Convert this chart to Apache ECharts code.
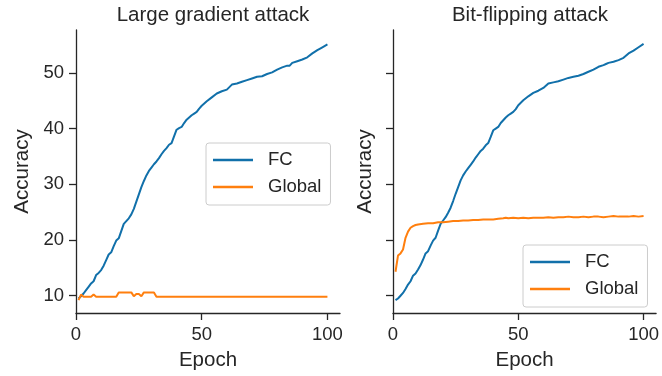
<!DOCTYPE html>
<html lang="en" style="height: 100%">
<head>
  <meta charset="utf-8">
</head>
<body style="height: 100%; margin: 0; background: #fff">
  <div id="container" style="width: 662px; height: 376px"></div>

  <script type="text/javascript" src="https://cdn.jsdelivr.net/npm/echarts@6.0.0/dist/echarts.min.js"></script>
  <script type="text/javascript">
// titles / legend names
var panelTitles = ['Large gradient attack', 'Bit-flipping attack'];
var seriesNames = ['FC', 'Global'];
var yTicks = [10, 20, 30, 40, 50];
var xTicks = [0, 50, 100];

// FC, large gradient attack
var fcLeftEpoch = [1,2,3,4,5,6,7,8,9,10,11,12,13,14,15,16,17,18,19,20,21,22,23,24,25,26,27,28,29,30,31,32,33,34,35,36,37,38,39,40,41,42,43,44,45,46,47,48,49,50,52,54,56,58,60,62,64,66,68,70,72,74,76,78,80,82,84,85,86,88,90,92,94,96,98,100];
var fcLeftAcc = [9.5,9.9,10.4,11.0,11.6,12.2,12.6,13.7,14.1,14.6,15.4,16.4,17.4,17.8,18.9,19.9,20.3,21.6,22.9,23.4,23.9,24.6,25.6,26.9,28.2,29.5,30.6,31.6,32.4,33.0,33.6,34.1,34.7,35.4,36.0,36.5,37.1,37.4,38.6,39.8,40.1,40.3,41.0,41.6,42.0,42.4,42.7,43.0,43.6,44.1,44.9,45.6,46.3,46.7,47.0,47.9,48.1,48.4,48.7,49.0,49.3,49.4,49.8,50.1,50.6,51.0,51.3,51.3,51.8,52.1,52.4,52.8,53.5,54.1,54.6,55.1];

// Global, large gradient attack
var glLeftEpoch = [1,2,3,6,7,8,16,17,22,23,24,25,26,27,31,32,100];
var glLeftAcc = [9.2,10.2,9.8,9.8,10.2,9.8,9.8,10.6,10.6,9.9,10.3,10.3,9.9,10.6,10.6,9.8,9.8];

// FC, bit-flipping attack
var fcRightEpoch = [1,2,3,4,5,6,7,8,9,10,11,12,13,14,15,16,17,18,19,20,21,22,23,24,25,26,27,28,29,30,31,32,33,34,35,36,37,38,39,40,41,42,43,44,45,46,47,48,49,50,52,54,56,58,60,62,64,66,68,70,72,74,76,78,80,82,84,85,86,88,90,92,94,96,98,100];
var fcRightAcc = [9.2,9.5,10.0,10.5,11.2,12.0,12.6,13.6,14.0,14.7,15.5,16.5,17.6,18.0,19.0,19.9,20.4,21.7,22.9,23.5,24.1,24.9,25.8,27.0,28.3,29.5,30.7,31.6,32.3,32.9,33.5,34.1,34.8,35.4,36.0,36.4,37.0,37.4,38.5,39.7,40.0,40.3,41.0,41.5,42.0,42.4,42.7,43.0,43.5,44.2,45.1,45.8,46.4,46.8,47.3,48.1,48.3,48.5,48.8,49.1,49.3,49.5,49.8,50.2,50.6,51.1,51.4,51.6,51.8,52.0,52.3,52.7,53.5,54.0,54.6,55.2];

// Global, bit-flipping attack
var glRightEpoch = [1,2,3,4,5,6,7,8,9,10,12,14,16,18,20,22,24,26,28,30,32,34,36,38,40,42,44,45,46,48,50,52,54,56,58,60,62,64,66,68,70,72,74,76,78,80,82,84,86,88,90,92,94,96,98,100];
var glRightAcc = [14.3,17.2,17.6,18.3,20.4,21.5,22.2,22.5,22.7,22.8,22.9,23.0,23.0,23.2,23.2,23.3,23.4,23.4,23.5,23.5,23.6,23.6,23.7,23.7,23.7,23.8,23.9,24.0,23.9,24.0,23.9,24.0,23.9,24.0,24.0,24.0,24.1,24.0,24.1,24.1,24.2,24.1,24.1,24.2,24.1,24.2,24.2,24.1,24.2,24.3,24.2,24.2,24.2,24.3,24.2,24.3];

function pairs(xs, ys) {
  var out = [];
  for (var i = 0; i < xs.length; i++) out.push([xs[i], ys[i]]);
  return out;
}

var dom = document.getElementById('container');
var myChart = echarts.init(dom, null, { renderer: 'canvas' });

var FONT = '"Liberation Sans", Arial, sans-serif';
var INK = '#262626';
var BLUE = '#1170aa';
var ORANGE = '#ff7f0e';

function xAxisOf(idx) {
  return {
    type: 'value', gridIndex: idx, min: 0, max: 105,
    name: 'Epoch', nameLocation: 'middle', nameGap: 37,
    nameTextStyle: { fontFamily: FONT, fontSize: 20.5, color: INK },
    axisLine: { lineStyle: { color: INK, width: 1.3 } },
    axisTick: { length: 7, lineStyle: { color: INK, width: 1.3 }, customValues: xTicks },
    axisLabel: { fontFamily: FONT, fontSize: 18.5, color: INK, margin: 12, customValues: xTicks },
    splitLine: { show: false }
  };
}

function yAxisOf(idx, showLabels) {
  return {
    type: 'value', gridIndex: idx, min: 6.9, max: 57.7,
    name: 'Accuracy', nameLocation: 'middle', nameGap: showLabels ? 43 : 17,
    nameTextStyle: { fontFamily: FONT, fontSize: 20.5, color: INK },
    axisLine: { show: true, lineStyle: { color: INK, width: 1.3 } },
    axisTick: { show: true, length: 7, lineStyle: { color: INK, width: 1.3 }, customValues: yTicks },
    axisLabel: { show: showLabels, fontFamily: FONT, fontSize: 18.5, color: INK, margin: 12, customValues: yTicks },
    splitLine: { show: false }
  };
}

function lineSeries(name, idx, data, color) {
  return {
    name: name, type: 'line', xAxisIndex: idx, yAxisIndex: idx,
    data: data, symbol: 'none', showSymbol: false, animation: false,
    lineStyle: { color: color, width: 2 }, itemStyle: { color: color }
  };
}

function legendOf(idx, left, top) {
  return {
    data: seriesNames, orient: 'vertical', left: left, top: top,
    icon: 'rect', itemWidth: 40, itemHeight: 2.5, itemGap: 7,
    padding: [7, 9, 8, 7],
    borderColor: '#cccccc', borderWidth: 1, borderRadius: 3,
    backgroundColor: 'rgba(255,255,255,0.8)',
    textStyle: { fontFamily: FONT, fontSize: 18.5, lineHeight: 20, color: INK, padding: [0, 0, 0, 10] }
  };
}

var option = {
  animation: false,
  title: [
    { text: panelTitles[0], left: 208, top: 0, textAlign: 'center',
      textStyle: { fontFamily: FONT, fontSize: 20.5, fontWeight: 'normal', color: INK } },
    { text: panelTitles[1], left: 525, top: 0, textAlign: 'center',
      textStyle: { fontFamily: FONT, fontSize: 20.5, fontWeight: 'normal', color: INK } }
  ],
  grid: [
    { left: 76, top: 30, width: 264, height: 284 },
    { left: 393, top: 30, width: 264, height: 284 }
  ],
  xAxis: [xAxisOf(0), xAxisOf(1)],
  yAxis: [yAxisOf(0, true), yAxisOf(1, false)],
  legend: [legendOf(0, 206, 143), legendOf(1, 523, 245)],
  series: [
    lineSeries(seriesNames[0], 0, pairs(fcLeftEpoch, fcLeftAcc), BLUE),
    lineSeries(seriesNames[1], 0, pairs(glLeftEpoch, glLeftAcc), ORANGE),
    lineSeries(seriesNames[0], 1, pairs(fcRightEpoch, fcRightAcc), BLUE),
    lineSeries(seriesNames[1], 1, pairs(glRightEpoch, glRightAcc), ORANGE)
  ]
};

myChart.setOption(option);
window.addEventListener('resize', myChart.resize);
  </script>
</body>
</html>
